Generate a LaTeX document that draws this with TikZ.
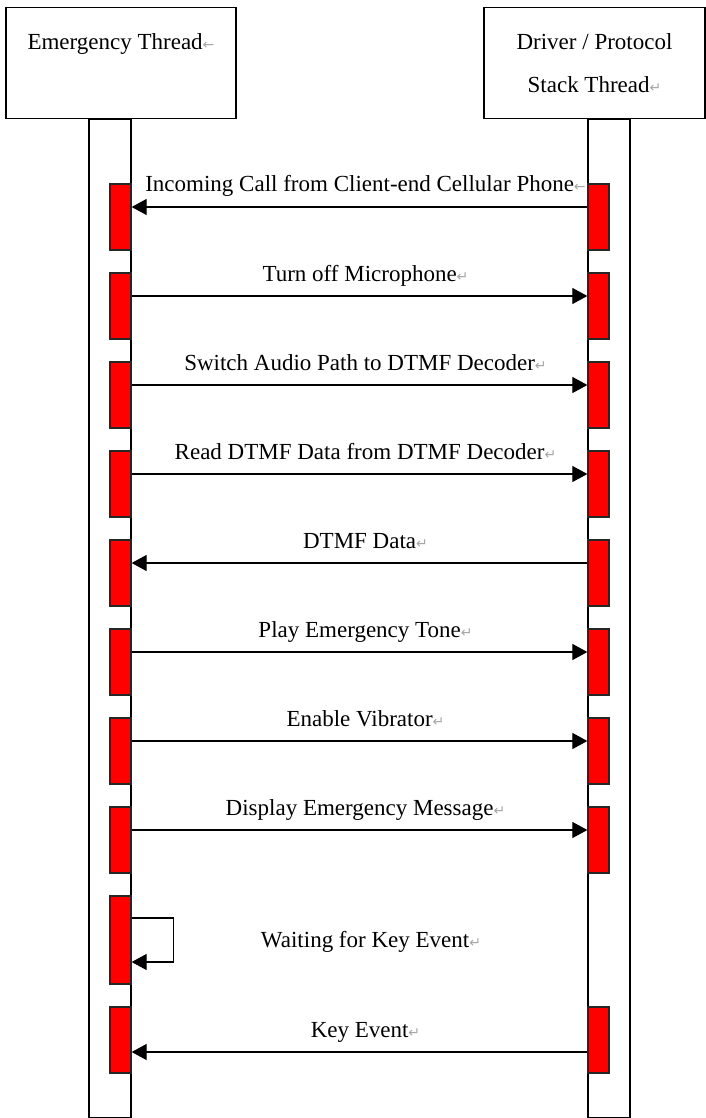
\documentclass[tikz,border=0pt]{standalone}
\usepackage{fontspec}
\setmainfont{Liberation Serif}
\newfontfamily\symfont{DejaVu Sans}
\usetikzlibrary{arrows.meta, calc}
\newcommand{\retmark}{{\symfont\fontsize{14}{14}\selectfont\color{gray!70}↵}}
\newcommand{\lftmark}{{\symfont\fontsize{14}{14}\selectfont\color{gray!70}←}}

\begin{document}
\begin{tikzpicture}[
  x=1pt, y=-1pt,
  thread/.style={draw, line width=1.3pt, inner sep=0pt, align=center,
                 font=\fontsize{23}{43}\selectfont},
  life/.style={draw, line width=1.3pt, minimum width=42pt,
               minimum height=998pt, inner sep=0pt},
  act/.style={draw=black!85, line width=1.3pt, fill=red, minimum width=21pt,
              minimum height=66pt, inner sep=0pt},
  msg/.style={-{Triangle[length=15pt, width=16pt]}, line width=1.2pt},
  lbl/.style={font=\fontsize{23}{28}\selectfont, inner sep=0pt, anchor=base,
              yshift=15pt, xshift=6pt}
]
\useasboundingbox (0,0) rectangle (706,1118);

\node[thread, minimum width=230pt, minimum height=111pt] (emthread) at (121,63) {Emergency Thread\lftmark\\\mbox{}};
\node[thread, minimum width=221pt, minimum height=111pt] (drthread) at (594.5,63) {Driver / Protocol\\Stack Thread\retmark};

\node[life, anchor=north] (emlife) at (110,118.5) {};
\node[life, anchor=north] (drlife) at (609,118.5) {};

% activation bars
\node[act] (em1) at (120.5,217) {};
\node[act] (dr1) at (598.5,217) {};
\node[act] (em2) at (120.5,306) {};
\node[act] (dr2) at (598.5,306) {};
\node[act] (em3) at (120.5,395) {};
\node[act] (dr3) at (598.5,395) {};
\node[act] (em4) at (120.5,484) {};
\node[act] (dr4) at (598.5,484) {};
\node[act] (em5) at (120.5,573) {};
\node[act] (dr5) at (598.5,573) {};
\node[act] (em6) at (120.5,662) {};
\node[act] (dr6) at (598.5,662) {};
\node[act] (em7) at (120.5,751) {};
\node[act] (dr7) at (598.5,751) {};
\node[act] (em8) at (120.5,840) {};
\node[act] (dr8) at (598.5,840) {};
\node[act, minimum height=88pt] (em9) at (120.5,940) {};
\node[act] (em10) at (120.5,1040) {};
\node[act] (dr10) at (598.5,1040) {};

% messages
\draw[msg] ($(dr1.west)+(0,-10)$) -- ($(em1.east)+(0,-10)$) node[lbl, midway] {Incoming Call from Client-end Cellular Phone\lftmark};
\draw[msg] ($(em2.east)+(0,-10)$) -- ($(dr2.west)+(0,-10)$) node[lbl, midway] {Turn off Microphone\retmark};
\draw[msg] ($(em3.east)+(0,-10)$) -- ($(dr3.west)+(0,-10)$) node[lbl, midway] {Switch Audio Path to DTMF Decoder\retmark};
\draw[msg] ($(em4.east)+(0,-10)$) -- ($(dr4.west)+(0,-10)$) node[lbl, midway] {Read DTMF Data from DTMF Decoder\retmark};
\draw[msg] ($(dr5.west)+(0,-10)$) -- ($(em5.east)+(0,-10)$) node[lbl, midway] {DTMF Data\retmark};
\draw[msg] ($(em6.east)+(0,-10)$) -- ($(dr6.west)+(0,-10)$) node[lbl, midway] {Play Emergency Tone\retmark};
\draw[msg] ($(em7.east)+(0,-10)$) -- ($(dr7.west)+(0,-10)$) node[lbl, midway] {Enable Vibrator\retmark};
\draw[msg] ($(em8.east)+(0,-10)$) -- ($(dr8.west)+(0,-10)$) node[lbl, midway] {Display Emergency Message\retmark};

% self call
\draw[msg] ($(em9.east)+(0,-22)$) -- ++(42,0) |- ($(em9.east)+(0,22)$);
\node[font=\fontsize{23}{28}\selectfont, inner sep=0pt, anchor=base] (waitlbl) at (371,947) {Waiting for Key Event\retmark};

\draw[msg] ($(dr10.west)+(0,12)$) -- ($(em10.east)+(0,12)$) node[lbl, midway] {Key Event\retmark};
\end{tikzpicture}
\end{document}
